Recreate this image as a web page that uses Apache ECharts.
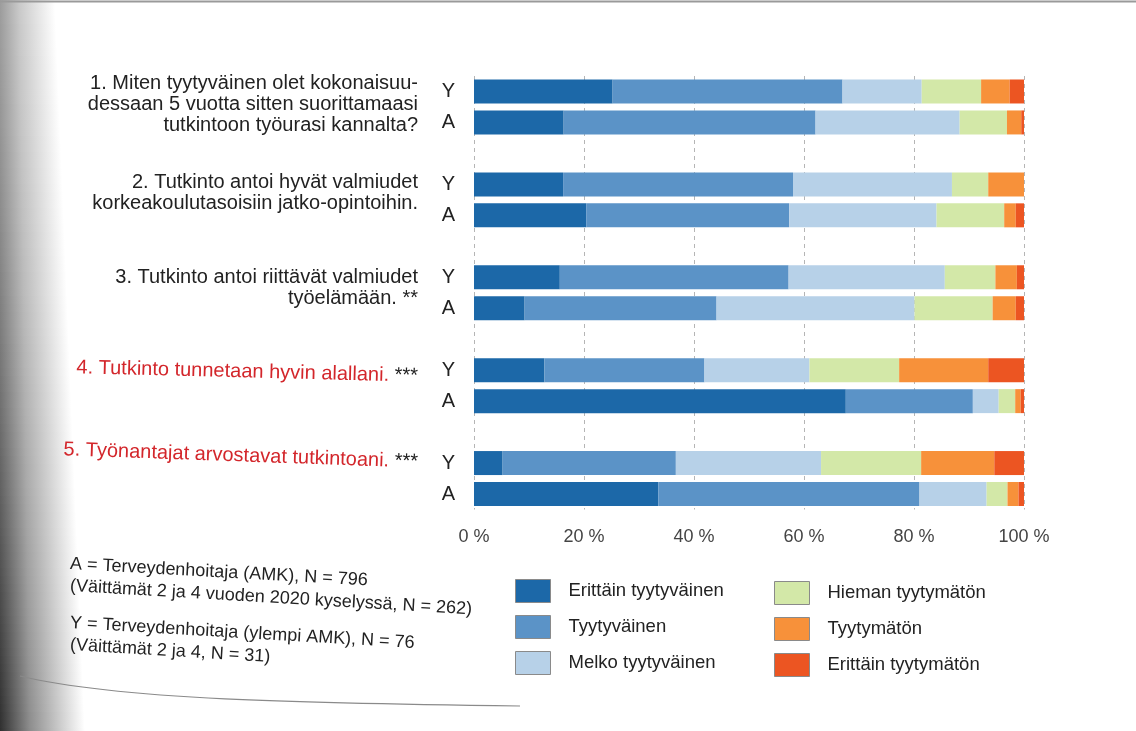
<!DOCTYPE html>
<html><head><meta charset="utf-8">
<script src="https://cdn.jsdelivr.net/npm/echarts@6/dist/echarts.min.js"></script>
<style>html,body{margin:0;padding:0;background:#fff}#c{width:1136px;height:731px}</style>
</head><body><div id="c"></div>
<script>
// ---- data ----
const questionLines = [
  ['1. Miten tyytyväinen olet kokonaisuu-', 'dessaan 5 vuotta sitten suorittamaasi', 'tutkintoon työurasi kannalta?'],
  ['2. Tutkinto antoi hyvät valmiudet', 'korkeakoulutasoisiin jatko-opintoihin.'],
  ['3. Tutkinto antoi riittävät valmiudet', 'työelämään. **'],
  ['4. Tutkinto tunnetaan hyvin alallani.'],
  ['5. Työnantajat arvostavat tutkintoani.']
];
const questionMarks = ['', '', '', ' ***', ' ***'];
const questionHighlighted = [false, false, false, true, true];
const respondentGroups = ['Y', 'A'];
const seriesNames = ['Erittäin tyytyväinen', 'Tyytyväinen', 'Melko tyytyväinen',
                     'Hieman tyytymätön', 'Tyytymätön', 'Erittäin tyytymätön'];
// order of rows: Y1, A1, Y2, A2, Y3, A3, Y4, A4, Y5, A5
const erittainTyytyvainen = [25.2, 16.3, 16.2, 20.4, 15.6, 9.2, 12.8, 67.6, 5.2, 33.5];
const tyytyvainen         = [41.8, 45.8, 41.8, 36.9, 41.6, 34.9, 29.1, 23.1, 31.5, 47.5];
const melkoTyytyvainen    = [14.4, 26.2, 28.9, 26.8, 28.4, 36.0, 19.1, 4.7, 26.4, 12.2];
const hiemanTyytymaton    = [10.8, 8.6, 6.6, 12.3, 9.2, 14.2, 16.3, 3.0, 18.2, 3.8];
const tyytymaton          = [5.2, 2.6, 6.5, 2.1, 3.9, 4.2, 16.2, 1.0, 13.3, 2.0];
const erittainTyytymaton  = [2.6, 0.5, 0.0, 1.5, 1.3, 1.5, 6.5, 0.6, 5.4, 1.0];
const xTickValues = [0, 20, 40, 60, 80, 100];
const footnotes = [
  'A = Terveydenhoitaja (AMK), N = 796',
  '(Väittämät 2 ja 4 vuoden 2020 kyselyssä, N = 262)',
  'Y = Terveydenhoitaja (ylempi AMK), N = 76',
  '(Väittämät 2 ja 4, N = 31)'
];

// ---- build ----
const FONT = '"Liberation Sans", Arial, Helvetica, sans-serif';
const colors = ['#1c68a8', '#5b93c7', '#b7d1e8', '#d3e8a8', '#f7913a', '#ec5522'];
const allValues = [erittainTyytyvainen, tyytyvainen, melkoTyytyvainen, hiemanTyytymaton, tyytymaton, erittainTyytymaton];

const rowKeys = [];
const rowIndex = [];
questionLines.forEach((q, qi) => {
  respondentGroups.forEach((g, gi) => { rowKeys.push(g + qi); rowIndex.push(qi * 2 + gi); });
  if (qi < questionLines.length - 1) { rowKeys.push('gap' + qi); rowIndex.push(-1); }
});

const series = seriesNames.map((name, si) => ({
  name: name,
  type: 'bar',
  stack: 'total',
  barWidth: 24,
  itemStyle: { color: colors[si] },
  data: rowIndex.map(ri => ri < 0 ? '-' : allValues[si][ri]),
  emphasis: { disabled: true }
}));

const chart = echarts.init(document.getElementById('c'), null, { renderer: 'canvas' });
const legendCommon = {
  orient: 'vertical', icon: 'rect', itemWidth: 35, itemHeight: 23, itemGap: 12, padding: 0,
  selectedMode: false,
  itemStyle: { borderColor: '#8a8a8a', borderWidth: 1 },
  textStyle: { fontSize: 18.5, color: '#222', fontFamily: FONT, padding: [0, 0, 0, 13] }
};
chart.setOption({
  animation: false,
  backgroundColor: '#ffffff',
  textStyle: { fontFamily: FONT },
  grid: { left: 474, right: 112, top: 76, bottom: 221.5, containLabel: false },
  xAxis: {
    type: 'value', min: 0, max: 100, interval: 20,
    axisLabel: { formatter: v => xTickValues.includes(v) ? v + ' %' : '', fontSize: 18, color: '#444', margin: 19, fontFamily: FONT },
    splitLine: { show: true, lineStyle: { type: [4, 4], color: '#b5b5b5', width: 1 } },
    axisLine: { show: false }, axisTick: { show: false }
  },
  yAxis: {
    type: 'category', inverse: true, data: rowKeys,
    axisLine: { show: false }, axisTick: { show: false },
    axisLabel: { formatter: v => v.startsWith('gap') ? '' : v[0], fontSize: 20, color: '#222', margin: 19, fontFamily: FONT }
  },
  legend: [
    Object.assign({ left: 515, top: 579, data: seriesNames.slice(0, 3) }, legendCommon),
    Object.assign({ left: 774, top: 581, data: seriesNames.slice(3, 6) }, legendCommon)
  ],
  series: series
});

// ---- decoration (photo page shading) ----
const graphics = [];
for (let y = 0; y < 731; y += 8) {
  const t = y / 731;
  const a = 0.45 + 0.5 * Math.pow(t, 1.5);
  const w = 55 + 30 * t;
  graphics.push({
    type: 'rect', z: 0, silent: true,
    shape: { x: 0, y: y, width: w, height: 8 },
    style: { fill: { type: 'linear', x: 0, y: 0, x2: 1, y2: 0,
      colorStops: [{ offset: 0, color: 'rgba(35,35,35,' + a + ')' },
                   { offset: 0.35, color: 'rgba(35,35,35,' + (a * 0.55) + ')' },
                   { offset: 1, color: 'rgba(35,35,35,0)' }] } }
  });
}
graphics.push({ type: 'line', z: 1, silent: true, shape: { x1: 0, y1: 1.5, x2: 1136, y2: 1.5 }, style: { stroke: '#9a9a9a', lineWidth: 2 } });
graphics.push({ type: 'bezierCurve', z: 1, silent: true,
  shape: { x1: 20, y1: 676, cpx1: 120, cpy1: 700, cpx2: 300, cpy2: 703, x2: 520, y2: 706 },
  style: { stroke: '#8a8a8a', lineWidth: 1.2, fill: null } });

// ---- text placed from axis positions ----
const blockOffsets = [13, 9, 11, 6, -1];
const rotations = [0, 0, 0, -0.025, -0.035];
const LH = 21;
questionLines.forEach((lines, qi) => {
  const yY = chart.convertToPixel({ yAxisIndex: 0 }, 'Y' + qi);
  const cy = yY + blockOffsets[qi];
  const red = questionHighlighted[qi];
  const textLines = lines.map((l, li) => {
    const mark = (li === lines.length - 1) ? questionMarks[qi] : '';
    return red ? '{r|' + l + '}{k|' + mark + '}' : '{k|' + l + mark + '}';
  });
  graphics.push({
    type: 'text', z: 10, silent: true,
    x: 418, y: cy, rotation: rotations[qi],
    style: {
      text: textLines.join('\n'),
      align: 'right', verticalAlign: 'middle', textAlign: 'right', textVerticalAlign: 'middle',
      lineHeight: LH,
      rich: {
        r: { fill: '#d3262b', fontSize: 20, fontFamily: FONT, lineHeight: LH },
        k: { fill: '#222', fontSize: 20, fontFamily: FONT, lineHeight: LH }
      }
    }
  });
});

const footY = [564, 586, 623, 645];
const footRot = [-0.055, -0.058, -0.058, -0.06];
footnotes.forEach((t, i) => {
  graphics.push({
    type: 'text', z: 10, silent: true, x: 70, y: footY[i], rotation: footRot[i],
    style: { text: t, fill: '#222', font: '18px ' + FONT, align: 'left', verticalAlign: 'middle', textAlign: 'left', textVerticalAlign: 'middle' }
  });
});
chart.setOption({ graphic: graphics });
</script></body></html>
